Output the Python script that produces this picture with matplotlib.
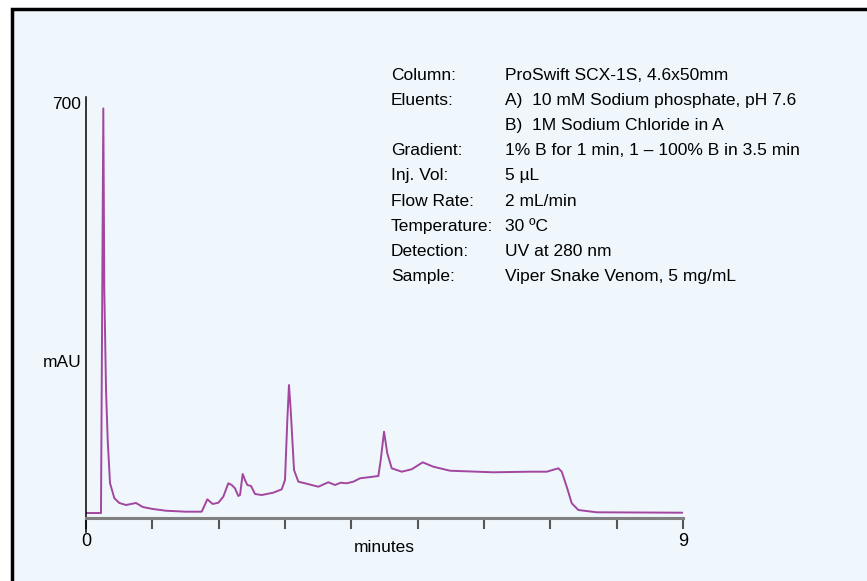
#!/usr/bin/env python3
"""ProSwift SCX-1S chromatogram of viper snake venom."""

import matplotlib
matplotlib.use("Agg")
import matplotlib.pyplot as plt
from matplotlib.patches import Rectangle

plt.rcParams["font.family"] = ["Liberation Sans", "DejaVu Sans"]

# retention time (min) and absorbance (mAU)
TIME = [
    0.0, 0.226, 0.261, 0.276, 0.302, 0.327, 0.362, 0.427, 0.502, 0.603,
    0.754, 0.855, 1.006, 1.206, 1.5, 1.744, 1.779, 1.829, 1.910, 1.995,
    2.070, 2.145, 2.197, 2.246, 2.296, 2.322, 2.362, 2.397, 2.432, 2.488,
    2.548, 2.649, 2.824, 2.951, 3.000, 3.035, 3.060, 3.086, 3.136, 3.201,
    3.302, 3.502, 3.653, 3.754, 3.840, 3.930, 4.030, 4.131, 4.256, 4.407,
    4.443, 4.493, 4.542, 4.609, 4.760, 4.910, 5.076, 5.236, 5.488, 6.141,
    6.694, 6.946, 7.121, 7.172, 7.247, 7.323, 7.422, 7.699, 9.0,
]
MAU = [
    8.3, 8.3, 681, 379, 213, 130, 58, 33, 25, 21.6,
    25, 18.3, 15, 12.1, 10.5, 10.5, 18.8, 31.1, 23.3, 25.4,
    35.4, 57.7, 54.9, 49.4, 36.6, 38.2, 73.2, 63.2, 54.9, 53.2,
    39.9, 38.2, 42.1, 47.7, 63.2, 162.9, 221.1, 179.6, 79.8, 60.4,
    57.7, 52.0, 59.4, 54.9, 58.7, 57.7, 60.4, 66.0, 67.7, 69.8,
    96.4, 143.5, 107.6, 82.6, 77.0, 81.0, 92.6, 85.3, 78.6, 76.0,
    77.0, 77.0, 82.6, 77.0, 52.0, 24.4, 13.3, 9.5, 8.8,
]
XTICKS = list(range(10))
XTICK_LABELS = ["0", "", "", "", "", "", "", "", "", "9"]

CONDITIONS = [
    ("Column:", "ProSwift SCX-1S, 4.6x50mm"),
    ("Eluents:", "A)  10 mM Sodium phosphate, pH 7.6"),
    ("", "B)  1M Sodium Chloride in A"),
    ("Gradient:", "1% B for 1 min, 1 \u2013 100% B in 3.5 min"),
    ("Inj. Vol:", "5 \u00b5L"),
    ("Flow Rate:", "2 mL/min"),
    ("Temperature:", "30 \u00baC"),
    ("Detection:", "UV at 280 nm"),
    ("Sample:", "Viper Snake Venom, 5 mg/mL"),
]

W, H = 867, 581
BG = "#eff7fd"
TRACE = "#a2469f"


def main() -> None:
    fig = plt.figure(figsize=(W / 100, H / 100), dpi=100)
    fig.patch.set_facecolor("white")
    fig.patches.append(Rectangle(
        (12 / W, -0.05), 1.1, 1.05 - 9 / H,
        transform=fig.transFigure, facecolor=BG, edgecolor="black",
        linewidth=2.5, zorder=-5,
    ))

    ymin = -24
    top_px, base_px = 97, 518
    scale = (base_px - top_px) / 700
    bottom_px = base_px - ymin * scale
    ax = fig.add_axes([
        86 / W, 1 - bottom_px / H,
        (683 - 86) / W, (bottom_px - top_px) / H,
    ])
    ax.patch.set_alpha(0)

    ax.plot(TIME, MAU, color=TRACE, linewidth=1.4,
            solid_joinstyle="round", solid_capstyle="round")

    ax.set_xlim(0, 9)
    ax.set_ylim(ymin, 700)
    for side in ("top", "right"):
        ax.spines[side].set_visible(False)
    ax.spines["bottom"].set_position(("data", 0))
    ax.spines["bottom"].set_color("#808080")
    ax.spines["bottom"].set_linewidth(2.2)
    ax.spines["left"].set_linewidth(1.1)
    ax.set_xticks(XTICKS, XTICK_LABELS)
    ax.tick_params(axis="x", direction="out", length=8, width=1.5,
                   color="#555555", labelsize=13, pad=3)
    ax.set_yticks([])

    ax.text(-0.08, 687, "700", ha="right", va="center", fontsize=12.5)
    ax.text(-0.06, 259, "mAU", ha="right", va="center", fontsize=12.5)
    ax.text(4.5, -36, "minutes", ha="center", va="top", fontsize=12.5)

    for i, (label, value) in enumerate(CONDITIONS):
        y = 1 - (75 + i * 25.2) / H
        fig.text(391 / W, y, label, ha="left", va="center", fontsize=12.5)
        fig.text(505 / W, y, value, ha="left", va="center", fontsize=12.5)

    fig.savefig("out.png", dpi=100)
    plt.close(fig)


if __name__ == "__main__":
    main()
